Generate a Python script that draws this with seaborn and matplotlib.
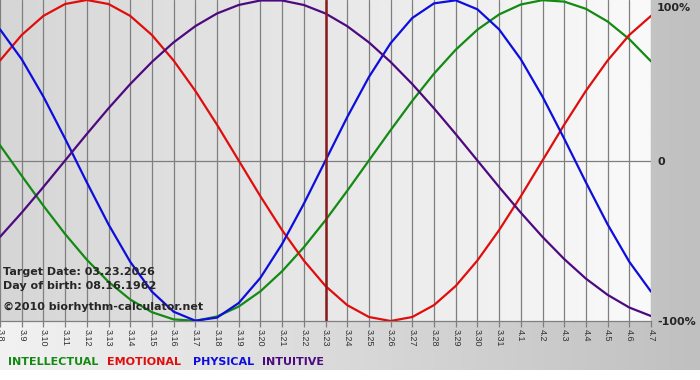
import numpy as np
import pandas as pd
import matplotlib
matplotlib.use('Agg')
import matplotlib.pyplot as plt
import seaborn as sns

# dias do grafico (3.8 ate 4.7)
dias = ['3.8', '3.9', '3.10', '3.11', '3.12', '3.13', '3.14', '3.15', '3.16', '3.17',
        '3.18', '3.19', '3.20', '3.21', '3.22', '3.23', '3.24', '3.25', '3.26', '3.27',
        '3.28', '3.29', '3.30', '3.31', '4.1', '4.2', '4.3', '4.4', '4.5', '4.6', '4.7']

intelectual = [0.095, -0.095, -0.282, -0.458, -0.618, -0.756, -0.866, -0.945, -0.990, -0.999,
               -0.972, -0.910, -0.815, -0.690, -0.541, -0.372, -0.189, 0.0, 0.189, 0.372,
               0.541, 0.690, 0.815, 0.910, 0.972, 0.999, 0.990, 0.945, 0.866, 0.756, 0.618]
emocional = [0.623, 0.782, 0.901, 0.975, 1.0, 0.975, 0.901, 0.782, 0.623, 0.434,
             0.223, 0.0, -0.223, -0.434, -0.623, -0.782, -0.901, -0.975, -1.0, -0.975,
             -0.901, -0.782, -0.623, -0.434, -0.223, 0.0, 0.223, 0.434, 0.623, 0.782, 0.901]
fisico = [0.817, 0.631, 0.398, 0.136, -0.136, -0.398, -0.631, -0.817, -0.942, -0.998,
          -0.979, -0.888, -0.731, -0.520, -0.270, 0.0, 0.270, 0.520, 0.731, 0.888,
          0.979, 0.998, 0.942, 0.817, 0.631, 0.398, 0.136, -0.136, -0.398, -0.631, -0.817]
intuitivo = [-0.476, -0.325, -0.165, 0.0, 0.165, 0.325, 0.476, 0.614, 0.736, 0.837,
             0.916, 0.969, 0.997, 0.997, 0.969, 0.916, 0.837, 0.736, 0.614, 0.476,
             0.325, 0.165, 0.0, -0.165, -0.325, -0.476, -0.614, -0.736, -0.837, -0.916, -0.969]

ciclos = ['INTELLECTUAL', 'EMOTIONAL', 'PHYSICAL', 'INTUITIVE']
cores = {'INTELLECTUAL': '#138a13', 'EMOTIONAL': '#e00d0d', 'PHYSICAL': '#0d0ddd', 'INTUITIVE': '#4d0a80'}
dia_alvo = '3.23'

# monta o dataframe longo pro seaborn
df = pd.DataFrame({
    'dia': list(range(len(dias))) * 4,
    'valor': intelectual + emocional + fisico + intuitivo,
    'ciclo': [c for c in ciclos for _ in dias],
})

sns.set_style('white')
plt.rcParams['font.family'] = ['DejaVu Sans']

W, H = 700, 380
fig = plt.figure(figsize=(W / 100, H / 100), dpi=100)
fig.patch.set_facecolor('white')

# fundo com degrade (claro -> cinza)
fundo = fig.add_axes([0, 10 / H, 1, 370 / H])
g = np.linspace(0xf2, 0xc0, 256) / 255
fundo.imshow(np.dstack([g, g, g]).repeat(2, axis=0), aspect='auto', extent=[0, 1, 0, 1])
fundo.axis('off')

ax = fig.add_axes([0, (H - 321) / H, 651 / W, 321 / H])
ax.patch.set_alpha(0)
g2 = np.linspace(0xd6, 0xfa, 256) / 255
ax.imshow(np.dstack([g2, g2, g2]).repeat(2, axis=0), aspect='auto',
          extent=[0, len(dias) - 1, -1, 1], zorder=0)

# grade vertical e linha do zero
for i in range(len(dias)):
    ax.axvline(i, color='#7f7f7f', lw=0.9, zorder=1)
ax.axhline(0, color='#7f7f7f', lw=0.9, zorder=1)

sns.lineplot(data=df, x='dia', y='valor', hue='ciclo', hue_order=ciclos, palette=cores,
             linewidth=1.6, legend=False, ax=ax, zorder=3)

ax.axvline(dias.index(dia_alvo), color='#8b1a1a', lw=1.8, zorder=4)

ax.set_xlim(0, len(dias) - 1)
ax.set_ylim(-1, 1)
ax.set_xticks(range(len(dias)))
ax.set_xticklabels(dias, rotation=-90, fontsize=6.5, family='Liberation Sans', color='#333333')
ax.set_yticks([])
ax.set_xlabel('')
ax.set_ylabel('')
ax.tick_params(axis='x', length=4, color='#7f7f7f', width=0.9, pad=1.5, bottom=True)
for lado in ['top', 'left', 'right']:
    ax.spines[lado].set_visible(False)
ax.spines['bottom'].set_color('#7f7f7f')
ax.spines['bottom'].set_linewidth(0.9)

# rotulos da direita
fig.text(657 / W, 1 - 8 / H, '100%', fontsize=8, fontweight='bold', va='center', ha='left')
fig.text(658 / W, 1 - 162 / H, '0', fontsize=8, fontweight='bold', va='center', ha='left')
fig.text(657 / W, 1 - 322 / H, '-100%', fontsize=8, fontweight='bold', va='center', ha='left')

# textos informativos
fig.text(3 / W, 1 - 272 / H, 'Target Date: 03.23.2026', fontsize=8, fontweight='bold', va='center')
fig.text(3 / W, 1 - 286 / H, 'Day of birth: 08.16.1962', fontsize=8, fontweight='bold', va='center')
fig.text(3 / W, 1 - 307 / H, '\u00a92010 biorhythm-calculator.net', fontsize=8, fontweight='bold', va='center')

# legenda
pos_leg = [8, 107, 193, 262]
for nome, x in zip(ciclos, pos_leg):
    fig.text(x / W, 1 - 362 / H, nome, fontsize=8, fontweight='bold', color=cores[nome], va='center')

plt.savefig('out.png', dpi=100)
plt.close()
